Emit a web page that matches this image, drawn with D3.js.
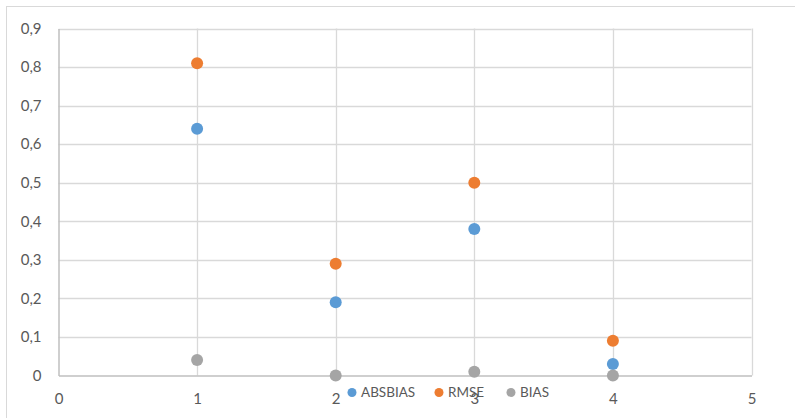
<!DOCTYPE html>
<html>
<head>
<meta charset="utf-8">
<script src="https://cdn.jsdelivr.net/npm/d3@7"></script>
<style>
  html, body { margin: 0; padding: 0; background: #fff; }
  svg { display: block; font-family: Lato, "Open Sans", sans-serif; }
</style>
</head>
<body>
<svg id="chart" width="795" height="418"></svg>
<script>
// Series values at x = 1..4
const xValues = [1, 2, 3, 4];
const absbias = [0.64, 0.19, 0.38, 0.03];
const rmse    = [0.81, 0.29, 0.50, 0.09];
const bias    = [0.04, 0.00, 0.01, 0.00];
const seriesNames = ["ABSBIAS", "RMSE", "BIAS"];
const seriesColors = ["#5b9bd5", "#ed7d31", "#a5a5a5"];
const xTicks = [0, 1, 2, 3, 4, 5];
const yTicks = [0, 0.1, 0.2, 0.3, 0.4, 0.5, 0.6, 0.7, 0.8, 0.9];

const svg = d3.select("#chart");
const W = 795, H = 418;
const plot = { left: 58.5, right: 751.5, top: 28.5, bottom: 375.5 };

const locale = d3.formatLocale({ decimal: ",", thousands: ".", grouping: [3], currency: ["", ""] });
const fmt = v => v === 0 ? "0" : locale.format(".1f")(v);

const x = d3.scaleLinear().domain([0, 5]).range([plot.left, plot.right]);
const y = d3.scaleLinear().domain([0, 0.9]).range([plot.bottom, plot.top]);

// Chart frame
svg.append("rect")
  .attr("x", 6.5).attr("y", 6.5)
  .attr("width", W + 10).attr("height", H + 10)
  .attr("fill", "#fff").attr("stroke", "#d9d9d9");

// Horizontal gridlines
svg.append("g").selectAll("line").data(yTicks.filter(d => d > 0)).join("line")
  .attr("x1", plot.left).attr("x2", plot.right)
  .attr("y1", d => Math.round(y(d)) + 0.5).attr("y2", d => Math.round(y(d)) + 0.5)
  .attr("stroke", "#d9d9d9").attr("stroke-width", 1.3);

// Vertical gridlines
svg.append("g").selectAll("line").data(xTicks.filter(d => d > 0)).join("line")
  .attr("x1", d => Math.round(x(d)) + 0.5).attr("x2", d => Math.round(x(d)) + 0.5)
  .attr("y1", plot.top).attr("y2", plot.bottom)
  .attr("stroke", "#d9d9d9").attr("stroke-width", 1.3);

// Axes
const xAxis = d3.axisBottom(x).tickValues(xTicks).tickSize(0).tickPadding(18).tickFormat(d3.format("d"));
const gx = svg.append("g").attr("transform", `translate(0,${plot.bottom})`).call(xAxis);
gx.select(".domain").attr("stroke", "#bfbfbf").attr("stroke-width", 1.5);
gx.selectAll("text").attr("fill", "#595959").attr("font-size", 15).attr("font-family", "Lato, 'Open Sans', sans-serif");

const yAxis = d3.axisLeft(y).tickValues(yTicks).tickSize(0).tickPadding(17).tickFormat(fmt);
const gy = svg.append("g").attr("transform", `translate(${plot.left},0)`).call(yAxis);
gy.select(".domain").attr("stroke", "#bfbfbf").attr("stroke-width", 1.5);
gy.selectAll("text").attr("fill", "#595959").attr("font-size", 15).attr("font-family", "Lato, 'Open Sans', sans-serif");

// Points, one group per series in legend order
const seriesData = [absbias, rmse, bias];
seriesData.forEach((vals, i) => {
  svg.append("g").selectAll("circle").data(vals).join("circle")
    .attr("cx", (d, j) => x(xValues[j]))
    .attr("cy", d => y(d))
    .attr("r", 6)
    .attr("fill", seriesColors[i]);
});

// Legend
const legendX = [352, 439, 511];
const legend = svg.append("g");
seriesNames.forEach((name, i) => {
  legend.append("circle")
    .attr("cx", legendX[i]).attr("cy", 392.5).attr("r", 4.5)
    .attr("fill", seriesColors[i]);
  legend.append("text")
    .attr("x", legendX[i] + 9).attr("y", 397)
    .attr("fill", "#595959").attr("font-size", 13.5)
    .text(name);
});
</script>
</body>
</html>
